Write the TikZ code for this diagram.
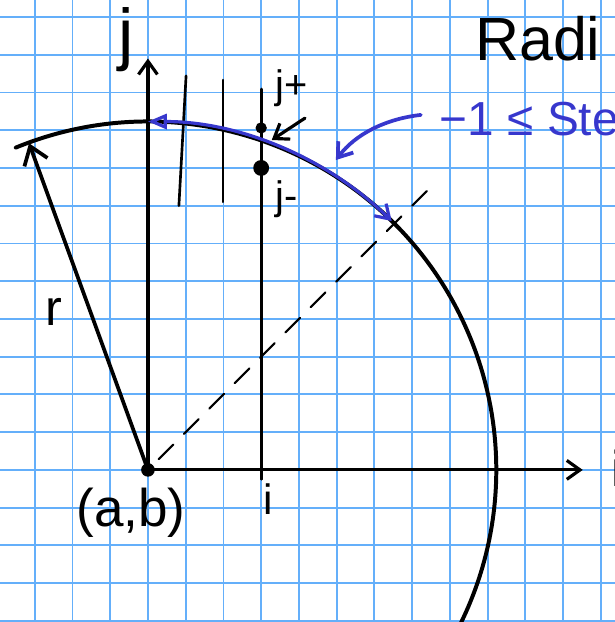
\documentclass[tikz,border=0pt]{standalone}
\usepackage{fontspec}
\setmainfont{Liberation Sans}
\usetikzlibrary{arrows.meta}
\definecolor{GridBlue}{RGB}{100,175,250}
\definecolor{Pen}{RGB}{55,55,205}

\begin{document}
\begin{tikzpicture}[>={Straight Barb[length=3.5mm,width=5mm]},
  ink/.style={line width=2.4pt, line cap=round},
  pen/.style={Pen, line width=2.4pt, line cap=round},
  hand/.style={inner sep=0pt, font=\fontsize{#1}{#1}\selectfont}]
\useasboundingbox (-3.92,-4.03) rectangle (12.37,12.45);
\clip (-3.92,-4.03) rectangle (12.37,12.45);
\draw[GridBlue, line width=1.4pt] (-4,-5) grid (13,13);

% points
\coordinate (O) at (0,0);
\coordinate (jtop) at (0,10.9);
\coordinate (itop) at (11.52,0);
\coordinate (rtip) at (110:9.21);
\coordinate (top) at (90:9.23);
\coordinate (diag) at (45.6:9.23);
\coordinate (jp) at (3,9.06);
\coordinate (jm) at (3,8.0);

% circle and axes
\draw[ink, line width=3pt] (112.3:9.23) arc[start angle=112.3, end angle=-35, radius=9.23];
\draw[ink, ->] (O) -- (jtop);
\draw[ink, ->] (O) -- (itop);
\draw[ink, line width=2.8pt, -{Straight Barb[length=4.5mm,width=6.5mm]}] (O) -- (rtip);
\draw[ink, line width=1.6pt, dash pattern=on 5.5mm off 4mm] (45:0.4) -- (45:10.6);

% columns
\draw[ink, line width=2pt] (1.01,10.44) -- (0.82,7.0);
\draw[ink, line width=2pt] (1.99,10.33) -- (1.99,7.1);
\draw[ink, line width=2pt] (3,10.09) -- (3,-0.25);
\fill (jp) circle (0.15);
\fill (jm) circle (0.21);
\fill (O) circle (0.18);

% step along the arc
\draw[pen, {Triangle[open,length=5mm,width=4mm]}-{Straight Barb[length=3.5mm,width=4.5mm]}]
  (top) arc[start angle=90, end angle=45.6, radius=9.23];

\coordinate (hint) at (4.16,9.32);
\coordinate (hit) at (3.28,8.74);
\draw[ink, ->] (hint) -- (hit);

\node[hand=36, Pen, anchor=base west] (slope) at (7.73,8.87) {−1 ≤ Ste};
\coordinate (bend) at (4.98,8.21);
\draw[pen, line width=2.8pt, ->] (slope.west) ++(-0.5,0.1) coordinate (stail) .. controls (6.3,9.3) and (5.5,8.9) .. (bend);

% labels
\node[hand=46, anchor=base west] (title) at (8.66,10.86) {Radi};
\node[hand=52] (jlab) at (-0.58,11.39) {j};
\node[hand=38] (ilab) at (12.42,0.05) {i};
\node[hand=38] (rlab) at (-2.49,4.19) {r};
\node[hand=40] (ab) at (-0.45,-1.14) {(a,b)};
\node[hand=32] (ix) at (3.18,-0.77) {i};
\node[hand=30] (jplab) at (3.8,10.1) {j+};
\node[hand=30] (jmlab) at (3.68,7.18) {j-};
\end{tikzpicture}
\end{document}
